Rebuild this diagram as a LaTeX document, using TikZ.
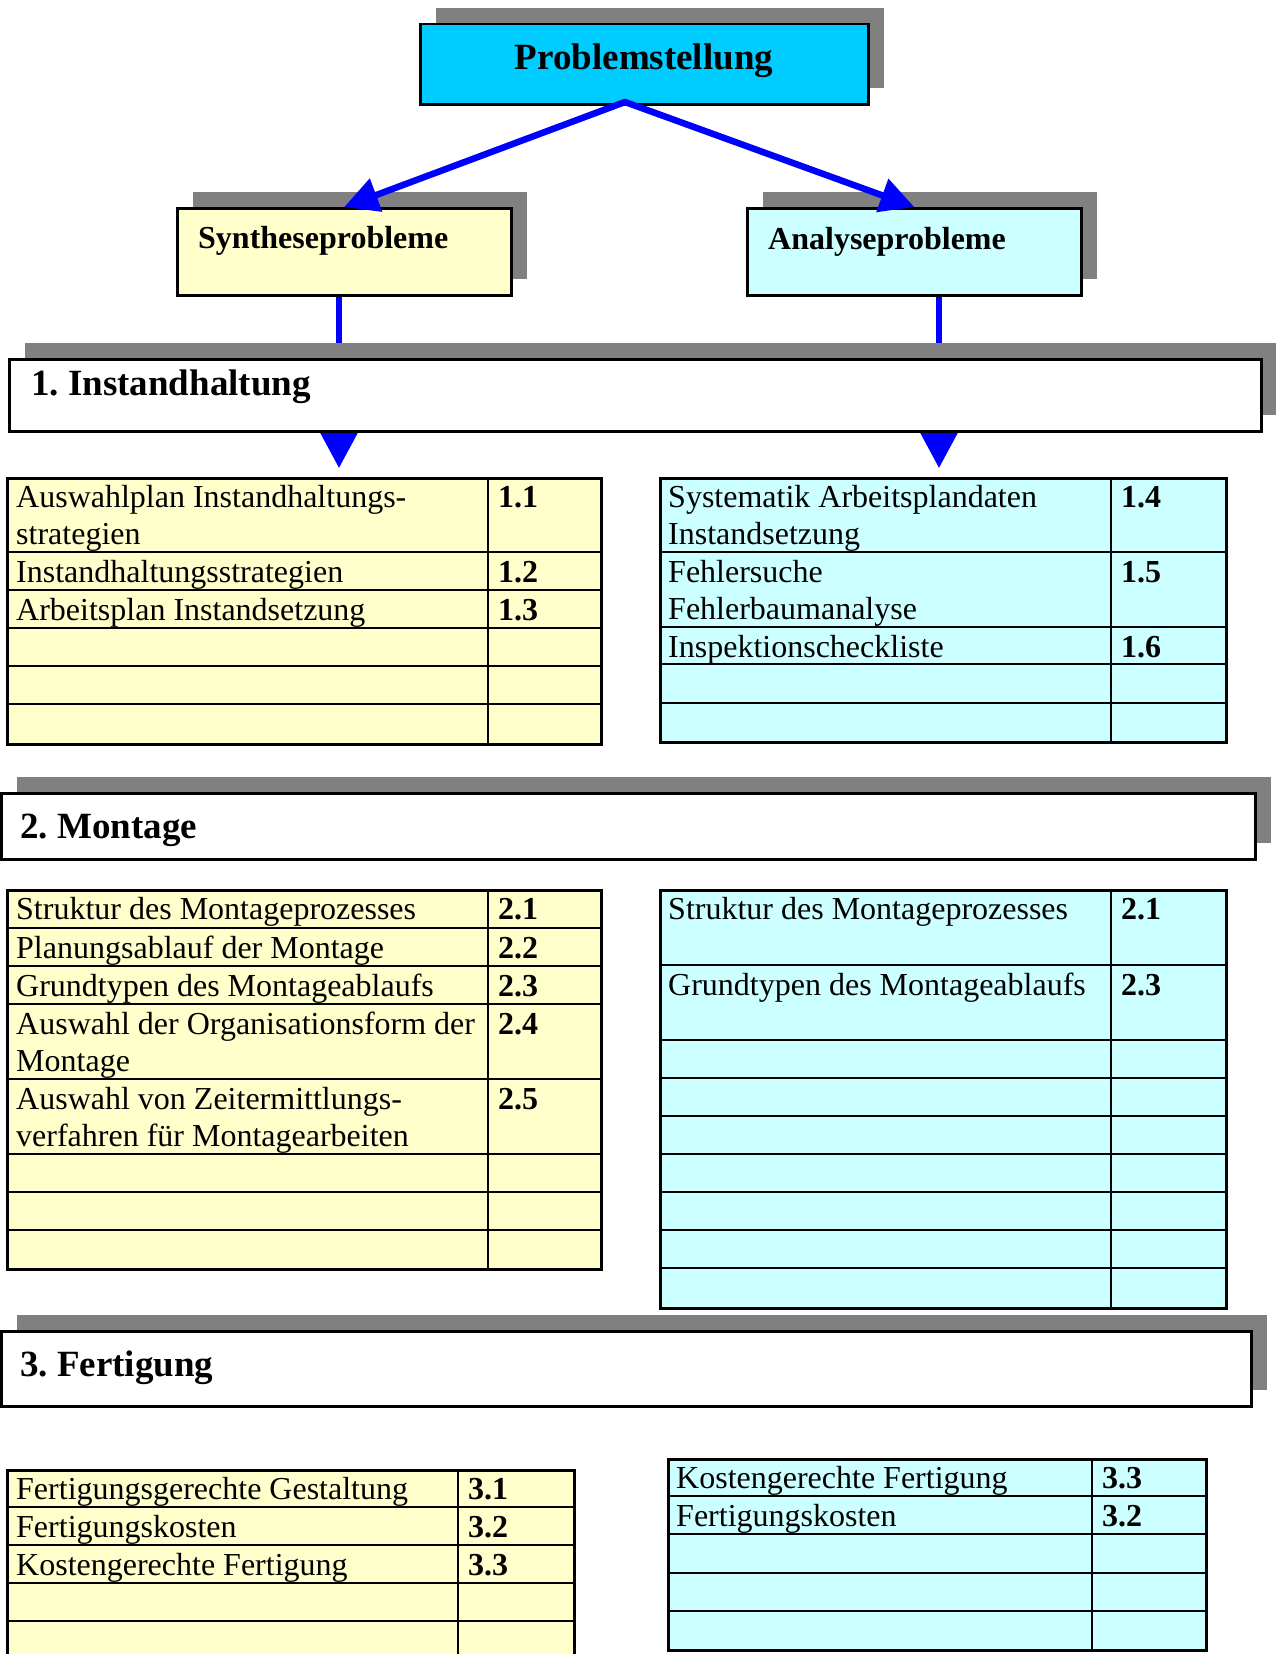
\documentclass[tikz,border=0pt]{standalone}
\usepackage{fontspec}
\setmainfont{Liberation Serif}
\usetikzlibrary{arrows.meta,positioning,shadows}
\pgfdeclarelayer{background}
\pgfsetlayers{background,main}
\definecolor{headcyan}{RGB}{0,204,255}
\definecolor{synfill}{RGB}{255,255,204}
\definecolor{anafill}{RGB}{204,255,255}
\definecolor{shadowgray}{RGB}{128,128,128}
\frenchspacing

\begin{document}
\begin{tikzpicture}[x=1pt,y=-1pt,
  box/.style={draw=black,line width=2.5pt,inner sep=0pt,anchor=north west,
    drop shadow={shadow xshift=16pt,shadow yshift=16pt,fill=shadowgray,opacity=1}},
  tabframe/.style={draw=black,line width=2.5pt,inner sep=0pt,anchor=north west},
  tabline/.style={black,line width=2.5pt},
  headtext/.style={anchor=base west,inner sep=0pt,font=\fontsize{37}{44}\selectfont\bfseries},
  subtext/.style={anchor=base west,inner sep=0pt,font=\fontsize{32}{38}\selectfont\bfseries},
  cell/.style={anchor=base west,inner sep=0pt,font=\fontsize{32}{38}\selectfont},
  num/.style={anchor=base west,inner sep=0pt,font=\fontsize{32}{38}\selectfont\bfseries},
  mainarrow/.style={blue,line width=6.5pt,line cap=round,-{Triangle[length=34pt,width=34pt]}},
  feed/.style={blue,line width=5.5pt},
  feedarrow/.style={blue,line width=5.5pt,-{Triangle[length=35pt,width=36pt]},shorten >=9pt}]
  \useasboundingbox (0,0) rectangle (1275,1654);

  % top of the tree
  \node[box,fill=headcyan,minimum width=448pt,minimum height=80pt] (ps) at (419,23) {};
  \node[headtext,anchor=base] (ps-text) at (644,70) {Problemstellung};
  \coordinate (ps-foot) at (625,102);

  \node[box,fill=synfill,minimum width=334pt,minimum height=87pt] (synth) at (176,207) {};
  \node[subtext] (synth-text) at (198,248) {Syntheseprobleme};
  \node[box,fill=anafill,minimum width=334pt,minimum height=87pt] (ana) at (746,207) {};
  \node[subtext] (ana-text) at (768,249) {Analyseprobleme};

  \draw[mainarrow] (ps-foot) -- (synth.north);
  \draw[mainarrow] (ps-foot) -- (ana.north);

  \coordinate (lcol) at (339,0);
  \coordinate (rcol) at (939,0);

  % 1. Instandhaltung
  \node[box,fill=white,minimum width=1252pt,minimum height=72pt] (sec1) at (8,358) {};
  \node[headtext] (sec1-text) at (31,395) {1. Instandhaltung};
  \begin{pgfonlayer}{background}
    \draw[feed] (synth.south -| lcol) -- (sec1.north -| lcol);
    \draw[feed] (ana.south -| rcol) -- (sec1.north -| rcol);
  \end{pgfonlayer}

  \node[tabframe,fill=synfill,minimum width=594pt,minimum height=266pt] (t1l) at (6,477) {};
  \foreach \r in {552,590,628,666,704} \draw[tabline] (6,\r) -- (600,\r);
  \draw[tabline] (488,477) -- (488,743);
  \node[cell] (t1l-a1) at (16,507) {Auswahlplan Instandhaltungs-};
  \node[cell] (t1l-a2) at (16,544) {strategien};
  \node[num] (t1l-n1) at (498,507) {1.1};
  \node[cell] (t1l-b) at (16,582) {Instandhaltungsstrategien};
  \node[num] (t1l-n2) at (498,582) {1.2};
  \node[cell] (t1l-c) at (16,620) {Arbeitsplan Instandsetzung};
  \node[num] (t1l-n3) at (498,620) {1.3};

  \node[tabframe,fill=anafill,minimum width=566pt,minimum height=264pt] (t1r) at (659,477) {};
  \foreach \r in {552,627,664,703} \draw[tabline] (659,\r) -- (1225,\r);
  \draw[tabline] (1111,477) -- (1111,741);
  \node[cell] (t1r-a1) at (668,507) {Systematik Arbeitsplandaten};
  \node[cell] (t1r-a2) at (668,544) {Instandsetzung};
  \node[num] (t1r-n4) at (1121,507) {1.4};
  \node[cell] (t1r-b1) at (668,582) {Fehlersuche};
  \node[cell] (t1r-b2) at (668,619) {Fehlerbaumanalyse};
  \node[num] (t1r-n5) at (1121,582) {1.5};
  \node[cell] (t1r-c) at (668,657) {Inspektionscheckliste};
  \node[num] (t1r-n6) at (1121,657) {1.6};

  \draw[feedarrow] (sec1.south -| lcol) -- (t1l.north -| lcol);
  \draw[feedarrow] (sec1.south -| rcol) -- (t1r.north -| rcol);

  % 2. Montage
  \node[box,fill=white,minimum width=1254pt,minimum height=66pt] (sec2) at (0,792) {};
  \node[headtext] (sec2-text) at (20,838) {2. Montage};

  \node[tabframe,fill=synfill,minimum width=594pt,minimum height=379pt] (t2l) at (6,889) {};
  \foreach \r in {928,966,1004,1079,1154,1192,1230} \draw[tabline] (6,\r) -- (600,\r);
  \draw[tabline] (488,889) -- (488,1268);
  \node[cell] (t2l-a) at (16,919) {Struktur des Montageprozesses};
  \node[num] (t2l-n1) at (498,919) {2.1};
  \node[cell] (t2l-b) at (16,958) {Planungsablauf der Montage};
  \node[num] (t2l-n2) at (498,958) {2.2};
  \node[cell] (t2l-c) at (16,996) {Grundtypen des Montageablaufs};
  \node[num] (t2l-n3) at (498,996) {2.3};
  \node[cell] (t2l-d1) at (16,1034) {Auswahl der Organisationsform der};
  \node[cell] (t2l-d2) at (16,1071) {Montage};
  \node[num] (t2l-n4) at (498,1034) {2.4};
  \node[cell] (t2l-e1) at (16,1109) {Auswahl von Zeitermittlungs-};
  \node[cell] (t2l-e2) at (16,1146) {verfahren für Montagearbeiten};
  \node[num] (t2l-n5) at (498,1109) {2.5};

  \node[tabframe,fill=anafill,minimum width=566pt,minimum height=418pt] (t2r) at (659,889) {};
  \foreach \r in {965,1040,1078,1116,1154,1192,1230,1268} \draw[tabline] (659,\r) -- (1225,\r);
  \draw[tabline] (1111,889) -- (1111,1307);
  \node[cell] (t2r-a) at (668,919) {Struktur des Montageprozesses};
  \node[num] (t2r-n1) at (1121,919) {2.1};
  \node[cell] (t2r-b) at (668,995) {Grundtypen des Montageablaufs};
  \node[num] (t2r-n3) at (1121,995) {2.3};

  % 3. Fertigung
  \node[box,fill=white,minimum width=1250pt,minimum height=75pt] (sec3) at (0,1330) {};
  \node[headtext] (sec3-text) at (20,1376) {3. Fertigung};

  \node[tabframe,fill=synfill,minimum width=567pt,minimum height=190pt] (t3l) at (6,1469) {};
  \foreach \r in {1507,1545,1583,1621} \draw[tabline] (6,\r) -- (573,\r);
  \draw[tabline] (458,1469) -- (458,1659);
  \node[cell] (t3l-a) at (16,1499) {Fertigungsgerechte Gestaltung};
  \node[num] (t3l-n1) at (468,1499) {3.1};
  \node[cell] (t3l-b) at (16,1537) {Fertigungskosten};
  \node[num] (t3l-n2) at (468,1537) {3.2};
  \node[cell] (t3l-c) at (16,1575) {Kostengerechte Fertigung};
  \node[num] (t3l-n3) at (468,1575) {3.3};

  \node[tabframe,fill=anafill,minimum width=538pt,minimum height=191pt] (t3r) at (667,1458) {};
  \foreach \r in {1496,1534,1573,1611} \draw[tabline] (667,\r) -- (1205,\r);
  \draw[tabline] (1092,1458) -- (1092,1649);
  \node[cell] (t3r-a) at (676,1488) {Kostengerechte Fertigung};
  \node[num] (t3r-n3) at (1102,1488) {3.3};
  \node[cell] (t3r-b) at (676,1526) {Fertigungskosten};
  \node[num] (t3r-n2) at (1102,1526) {3.2};
\end{tikzpicture}
\end{document}
